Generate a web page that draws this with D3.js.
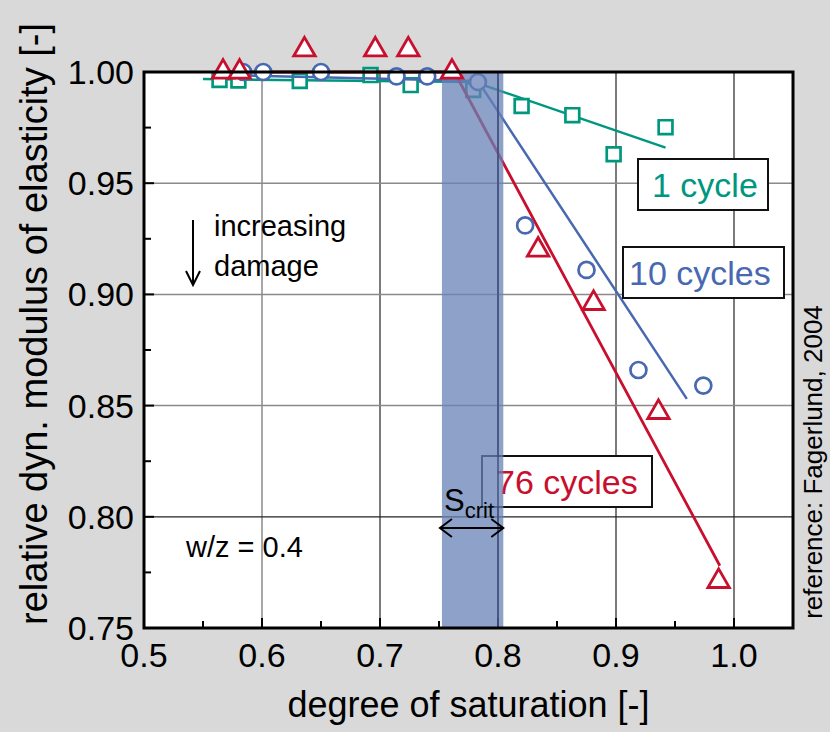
<!DOCTYPE html>
<html lang="en">
<head>
<meta charset="UTF-8">
<title>Relative dyn. modulus vs degree of saturation</title>
<script src="https://d3js.org/d3.v7.min.js"></script>
<style>
  body { margin: 0; background: #d9d9d9; }
  text { font-family: "Liberation Sans", Arial, sans-serif; }
</style>
</head>
<body>
<svg id="chart" width="830" height="732"></svg>
<script>
// values (w/z = 0.4, Fagerlund 2004)

// 1 cycle (squares)
var sat1 = [0.564, 0.580, 0.632, 0.692, 0.726, 0.779, 0.820, 0.863, 0.898, 0.942];
var mod1 = [0.9964, 0.9962, 0.9960, 0.9986, 0.9941, 0.9919, 0.9847, 0.9806, 0.9630, 0.9752];
var fitSat1 = [0.550, 0.780, 0.942];
var fitMod1 = [0.9968, 0.9955, 0.9660];

// 10 cycles (circles)
var sat10 = [0.584, 0.601, 0.650, 0.714, 0.740, 0.783, 0.823, 0.875, 0.919, 0.974];
var mod10 = [1.000, 1.000, 1.000, 0.998, 0.998, 0.9955, 0.931, 0.911, 0.866, 0.859];
var fitSat10 = [0.575, 0.783, 0.960];
var fitMod10 = [0.9985, 0.9960, 0.853];

// 76 cycles (triangles)
var sat76 = [0.567, 0.581, 0.636, 0.696, 0.724, 0.761, 0.834, 0.881, 0.936, 0.987];
var mod76 = [1.000, 1.000, 1.010, 1.010, 1.010, 1.000, 0.920, 0.896, 0.847, 0.771];
var fitSat76 = [0.565, 0.763, 0.988];
var fitMod76 = [1.000, 1.000, 0.778];

// critical saturation band
var sCrit = [0.7525, 0.8045];

var xTicks = [0.5, 0.6, 0.7, 0.8, 0.9, 1.0];
var yTicks = [0.75, 0.80, 0.85, 0.90, 0.95, 1.00];

var teal = "#00977f", blue = "#4868b2", red = "#c8102e";

var svg = d3.select("#chart");
var pL = 144, pR = 793, pT = 72, pB = 628;

var x = d3.scaleLinear().domain([0.5, 1.05]).range([pL, pR]);
var y = d3.scaleLinear().domain([0.75, 1.0]).range([pB, pT]);

function zip(a, b) { return a.map(function(v, i) { return [v, b[i]]; }); }

// plot background
svg.append("rect").attr("x", pL).attr("y", pT)
    .attr("width", pR - pL).attr("height", pB - pT).attr("fill", "#fff");

// grid
var darkV = [0.7, 0.8, 0.9, 1.0];
svg.append("g").selectAll("line").data(xTicks.slice(1)).join("line")
    .attr("x1", d => x(d)).attr("x2", d => x(d)).attr("y1", pT).attr("y2", pB)
    .attr("stroke", d => darkV.indexOf(d) >= 0 ? "#222" : "#8a8a8a")
    .attr("stroke-width", d => darkV.indexOf(d) >= 0 ? 1.2 : 1.5);
svg.append("g").selectAll("line").data(yTicks.slice(1, 5)).join("line")
    .attr("x1", pL).attr("x2", pR).attr("y1", d => y(d)).attr("y2", d => y(d))
    .attr("stroke", d => d === 0.80 ? "#222" : "#8a8a8a")
    .attr("stroke-width", d => d === 0.80 ? 1.2 : 1.5);

// minor/major inward ticks
svg.append("g").selectAll("line").data(d3.range(0, 12)).join("line")
    .attr("x1", i => x(0.5 + i * 0.05)).attr("x2", i => x(0.5 + i * 0.05))
    .attr("y1", pB).attr("y2", i => pB - (i % 2 === 0 ? 10 : 7))
    .attr("stroke", "#000").attr("stroke-width", 2);
svg.append("g").selectAll("line").data(d3.range(0, 11)).join("line")
    .attr("x1", pL).attr("x2", i => pL + (i % 2 === 0 ? 10 : 7))
    .attr("y1", i => y(0.75 + i * 0.025)).attr("y2", i => y(0.75 + i * 0.025))
    .attr("stroke", "#000").attr("stroke-width", 2);

// fit lines and markers
var line = d3.line().x(d => x(d[0])).y(d => y(d[1]));
svg.append("path").datum(zip(fitSat1, fitMod1)).attr("d", line)
    .attr("fill", "none").attr("stroke", teal).attr("stroke-width", 2.5);
svg.append("g").selectAll("path").data(zip(sat1, mod1)).join("path")
    .attr("transform", d => "translate(" + x(d[0]) + "," + y(d[1]) + ")")
    .attr("d", d3.symbol(d3.symbolSquare, 190)())
    .attr("fill", "#fff").attr("stroke", teal).attr("stroke-width", 2.7);

svg.append("path").datum(zip(fitSat10, fitMod10)).attr("d", line)
    .attr("fill", "none").attr("stroke", blue).attr("stroke-width", 2.5);
svg.append("path").datum(zip(fitSat76, fitMod76)).attr("d", line)
    .attr("fill", "none").attr("stroke", red).attr("stroke-width", 2.8);

svg.append("g").selectAll("circle").data(zip(sat10, mod10)).join("circle")
    .attr("cx", d => x(d[0])).attr("cy", d => y(d[1])).attr("r", 8)
    .attr("fill", "#fff").attr("stroke", blue).attr("stroke-width", 2.7);

// label boxes
function labelBox(bx, by, w, h, txt, col, tx) {
    svg.append("rect").attr("x", bx).attr("y", by).attr("width", w).attr("height", h)
        .attr("fill", "#fff").attr("stroke", "#111").attr("stroke-width", 2);
    svg.append("text").attr("x", tx).attr("y", by + h - 13).attr("fill", col)
        .attr("font-size", 34).text(txt);
}
labelBox(638, 159, 130, 51, "1 cycle", teal, 652);
labelBox(623, 247, 161, 51, "10 cycles", blue, 629);
labelBox(482, 456, 170, 51, "76 cycles", red, 496);

// S_crit band, drawn over the data
svg.append("rect").attr("x", x(sCrit[0])).attr("y", pT)
    .attr("width", x(sCrit[1]) - x(sCrit[0])).attr("height", pB - pT)
    .attr("fill", "#6881b7").attr("opacity", 0.75);
svg.append("line").attr("x1", x(0.8)).attr("x2", x(0.8)).attr("y1", pT).attr("y2", pB)
    .attr("stroke", "#2f406e").attr("stroke-width", 1.2);

svg.append("g").selectAll("path").data(zip(sat76, mod76)).join("path")
    .attr("transform", d => "translate(" + x(d[0]) + "," + y(d[1]) + ")")
    .attr("d", d3.symbol(d3.symbolTriangle, 200)())
    .attr("fill", "#fff").attr("stroke", red).attr("stroke-width", 2.8);

// frame
svg.append("rect").attr("x", pL).attr("y", pT)
    .attr("width", pR - pL).attr("height", pB - pT)
    .attr("fill", "none").attr("stroke", "#000").attr("stroke-width", 3);

// S_crit annotation
var sc = svg.append("text").attr("x", 444).attr("y", 511).attr("font-size", 31).attr("fill", "#000");
sc.append("tspan").text("S");
sc.append("tspan").attr("font-size", 22).attr("dy", 7).text("crit");
var ay = 528, ax0 = x(sCrit[0]) - 2, ax1 = x(sCrit[1]);
svg.append("path")
    .attr("d", "M" + ax0 + "," + ay + "H" + ax1 +
        "M" + (ax0 + 12) + "," + (ay - 9) + "L" + ax0 + "," + ay + "L" + (ax0 + 12) + "," + (ay + 9) +
        "M" + (ax1 - 12) + "," + (ay - 9) + "L" + ax1 + "," + ay + "L" + (ax1 - 12) + "," + (ay + 9))
    .attr("fill", "none").attr("stroke", "#000").attr("stroke-width", 2);

// increasing damage
svg.append("path").attr("d", "M193,220V285M186,271L193,285L200,271")
    .attr("fill", "none").attr("stroke", "#000").attr("stroke-width", 2);
svg.append("text").attr("x", 214).attr("y", 236).attr("font-size", 29).text("increasing");
svg.append("text").attr("x", 214).attr("y", 276).attr("font-size", 29).text("damage");
svg.append("text").attr("x", 186).attr("y", 557).attr("font-size", 29).text("w/z = 0.4");

// tick labels
svg.append("g").selectAll("text").data(xTicks).join("text")
    .attr("x", d => x(d)).attr("y", 667).attr("text-anchor", "middle")
    .attr("font-size", 34).text(d3.format(".1f"));
svg.append("g").selectAll("text").data(yTicks).join("text")
    .attr("x", 134).attr("y", d => y(d)).attr("dy", "0.35em").attr("text-anchor", "end")
    .attr("font-size", 34).text(d3.format(".2f"));

// axis titles
svg.append("text").attr("x", (pL + pR) / 2).attr("y", 717).attr("text-anchor", "middle")
    .attr("font-size", 36).text("degree of saturation [-]");
svg.append("text").attr("transform", "translate(47,324) rotate(-90)").attr("text-anchor", "middle")
    .attr("font-size", 38).text("relative dyn. modulus of elasticity [-]");
svg.append("text").attr("transform", "translate(822,462) rotate(-90)").attr("text-anchor", "middle")
    .attr("font-size", 26).text("reference: Fagerlund, 2004");
</script>
</body>
</html>
